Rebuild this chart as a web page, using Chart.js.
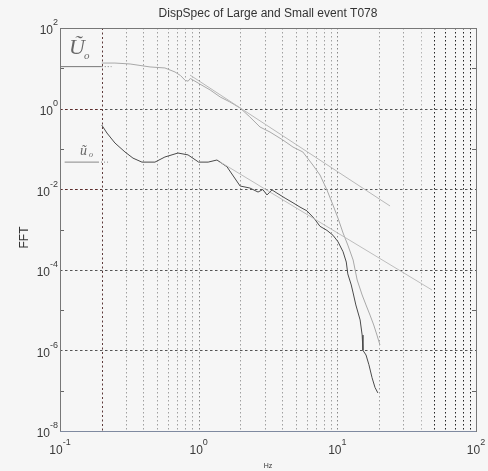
<!DOCTYPE html>
<html><head><meta charset="utf-8">
<script src="https://cdn.jsdelivr.net/npm/chart.js@4"></script>
<style>html,body{margin:0;padding:0;background:#f6f6f6;}canvas{display:block}</style>
</head><body>
<canvas id="c" width="488" height="471"></canvas>
<script>
const titleText = "DispSpec of Large and Small event T078";
const xLabelText = "Hz";
const yLabelText = "FFT";
const xTickExps = [-1, 0, 1, 2];
const yTickExps = [2, 0, -2, -4, -6, -8];
const yMinorExps = [1, -1, -3, -5, -7];

// Small event spectrum (dark curve)
const smallFreq = [0.2,0.218,0.249,0.294,0.336,0.39,0.484,0.571,0.709,0.838,1.0,1.17,1.355,1.6,1.99,2.34,2.68,2.9,3.11,3.38,3.67,4.2,4.79,5.38,6.04,6.79,7.5,8.42,9.3,10.1,11.0,11.6,11.9,12.6,13.0,13.6,14.6,15.1,15.3,16.1,16.9,17.8,18.7,19.6];
const smallAmp = [0.39,0.248,0.14,0.084,0.059,0.047,0.047,0.063,0.079,0.071,0.047,0.047,0.053,0.036,0.012,0.0107,0.0085,0.0098,0.0072,0.0096,0.0080,0.0060,0.0046,0.0036,0.0029,0.0019,0.0012,0.00095,0.00072,0.00050,0.00028,0.000156,7.9e-5,4.2e-5,2.66e-5,1.34e-5,5.7e-6,2.4e-6,1.0e-6,7.7e-7,4.4e-7,2.1e-7,1.2e-7,8.8e-8];

// Large event spectrum (light curve)
const largeFreq = [0.2,0.249,0.32,0.446,0.571,0.675,0.74,0.8,0.84,0.87,1.02,1.21,1.43,1.68,1.99,2.34,2.77,3.27,4.05,4.79,5.64,6.66,7.5,8.42,9.3,10.1,11.0,11.9,13.0,13.9,15.1,16.1,17.2,18.3,19.3,20.3];
const largeAmp = [13.5,13.5,12.8,10.8,10.2,8.1,6.6,5.0,4.8,5.6,4.07,2.9,1.94,1.46,1.035,0.62,0.349,0.262,0.166,0.111,0.0838,0.0398,0.0225,0.00955,0.00405,0.00193,0.000818,0.000412,0.000175,5.58e-5,2.37e-5,1.34e-5,7.55e-6,4.27e-6,2.41e-6,1.36e-6];

// High-frequency asymptotes
const largeAsymFreq = [0.866, 24.0];
const largeAsymAmp = [6.8, 0.00383];
const smallAsymFreq = [1.43, 48.2];
const smallAsymAmp = [0.0473, 3.15e-5];

// Low-frequency levels
const largeLevelFreq = [0.1, 0.2];
const largeLevelAmp = [11, 11];
const largeLevelDotFreq = [0.2, 0.235];
const smallLevelFreq = [0.108, 0.188];
const smallLevelAmp = [0.047, 0.047];
const smallLevelDotFreq = [0.188, 0.225];

function pts(xs, ys) { return xs.map((x, i) => ({x: x, y: ys[i]})); }
function line(data, color, width, dash) {
  return {data: data, borderColor: color, borderWidth: width, borderDash: dash || [], showLine: true, pointRadius: 0, fill: false, tension: 0};
}

const FONT = '"Liberation Sans", Arial, sans-serif';

function drawPow(ctx, x, y, exp, align) {
  ctx.save();
  ctx.fillStyle = '#3a3a3a';
  ctx.textBaseline = 'middle';
  ctx.font = '12px ' + FONT;
  const base = '10';
  const e = String(exp);
  const wb = ctx.measureText(base).width;
  ctx.font = '9px ' + FONT;
  const we = ctx.measureText(e).width;
  const x0 = align === 'right' ? x - wb - we : x - (wb + we) / 2;
  ctx.font = '12px ' + FONT;
  ctx.textAlign = 'left';
  ctx.fillText(base, x0, y);
  ctx.font = '9px ' + FONT;
  ctx.fillText(e, x0 + wb, y - 8);
  ctx.restore();
}

const decor = {
  id: 'decor',
  beforeDatasetsDraw(chart) {
    const ctx = chart.ctx, xs = chart.scales.x, ys = chart.scales.y, a = chart.chartArea;
    ctx.save();
    for (let d = -1; d <= 1; d++) {
      for (let m = 1; m <= 9; m++) {
        const v = m * Math.pow(10, d);
        if (v <= 0.1 + 1e-9) continue;
        const px = Math.round(xs.getPixelForValue(v)) + 0.5;
        let col = '#a0a0a0';
        let dash = [1.5, 2.5];
        if (d === -1 && m === 2) { col = '#5e3a3a'; dash = [2, 2.5]; }
        else if (d === 1 && m >= 5) col = '#222';
        else if (d === 1 && m === 4) col = '#b5b5b5';
        else if (m === 1) col = '#888';
        ctx.strokeStyle = col;
        ctx.lineWidth = 1;
        ctx.setLineDash(dash);
        ctx.beginPath(); ctx.moveTo(px, a.top); ctx.lineTo(px, a.bottom); ctx.stroke();
      }
    }
    yTickExps.forEach(e => {
      if (e === 2 || e === -8) return;
      const py = Math.round(ys.getPixelForValue(Math.pow(10, e))) + 0.5;
      ctx.strokeStyle = '#555';
      ctx.setLineDash([2.5, 2.5]);
      ctx.beginPath(); ctx.moveTo(a.left, py); ctx.lineTo(a.right, py); ctx.stroke();
      if (e === -2 || e === 0) {
        ctx.strokeStyle = '#5e2a2a';
        ctx.beginPath(); ctx.moveTo(a.left, py); ctx.lineTo(xs.getPixelForValue(0.2), py); ctx.stroke();
      }
    });
    ctx.setLineDash([]);
    ctx.strokeStyle = '#666';
    yMinorExps.forEach(e => {
      const py = Math.round(ys.getPixelForValue(Math.pow(10, e))) + 0.5;
      ctx.beginPath(); ctx.moveTo(a.left, py); ctx.lineTo(a.left + 4, py); ctx.stroke();
      ctx.beginPath(); ctx.moveTo(a.right, py); ctx.lineTo(a.right - 4, py); ctx.stroke();
    });
    ctx.restore();
  },
  afterDatasetsDraw(chart) {
    const ctx = chart.ctx, xs = chart.scales.x, ys = chart.scales.y, a = chart.chartArea;
    ctx.save();
    ctx.lineWidth = 1;
    ctx.strokeStyle = '#777';
    ctx.strokeRect(Math.round(a.left) + 0.5, Math.round(a.top) + 0.5, Math.round(a.right - a.left), Math.round(a.bottom - a.top));
    ctx.strokeStyle = '#7f8aa0';
    ctx.beginPath(); ctx.moveTo(a.left, Math.round(a.bottom) + 0.5); ctx.lineTo(a.right, Math.round(a.bottom) + 0.5); ctx.stroke();
    xTickExps.forEach(e => {
      drawPow(ctx, xs.getPixelForValue(Math.pow(10, e)), a.bottom + 20, e, 'center');
    });
    yTickExps.forEach(e => {
      drawPow(ctx, a.left - 2, ys.getPixelForValue(Math.pow(10, e)) + 3, e, 'right');
    });
    ctx.fillStyle = '#333';
    ctx.textAlign = 'center';
    ctx.textBaseline = 'middle';
    ctx.font = '12px ' + FONT;
    ctx.fillText(titleText, (a.left + a.right) / 2, 14);
    ctx.font = '7px ' + FONT;
    ctx.fillText(xLabelText, (a.left + a.right) / 2, 466);
    ctx.save();
    ctx.translate(25, (a.top + a.bottom) / 2 + 8);
    ctx.rotate(-Math.PI / 2);
    ctx.font = '12px ' + FONT;
    ctx.fillText(yLabelText, 0, 0);
    ctx.restore();
    ctx.fillStyle = '#666';
    ctx.textAlign = 'left';
    ctx.font = 'italic 22px "Liberation Serif", "DejaVu Serif", serif';
    ctx.fillText('\u0168', 69, 48);
    ctx.font = 'italic 11px "Liberation Serif", "DejaVu Serif", serif';
    ctx.fillText('o', 84, 56);
    ctx.font = 'italic 14px "Liberation Serif", "DejaVu Serif", serif';
    ctx.fillText('\u0169', 80, 151);
    ctx.font = 'italic 8px "Liberation Serif", "DejaVu Serif", serif';
    ctx.fillText('o', 89, 155);
    ctx.restore();
  }
};

new Chart(document.getElementById('c'), {
  type: 'scatter',
  data: {
    datasets: [
      line(pts(largeAsymFreq, largeAsymAmp), '#b8b8b8', 1),
      line(pts(smallAsymFreq, smallAsymAmp), '#bdbdbd', 1),
      line(pts(largeFreq, largeAmp), '#a8a8a8', 1),
      line(pts(largeLevelFreq, largeLevelAmp), '#777', 1),
      line(pts(largeLevelDotFreq, largeLevelAmp), '#777', 1, [1, 2]),
      line(pts(smallLevelFreq, smallLevelAmp), '#888', 1),
      line(pts(smallLevelDotFreq, smallLevelAmp), '#888', 1, [1, 2]),
      line(pts(smallFreq, smallAmp), '#4a4a4a', 1)
    ]
  },
  options: {
    responsive: false,
    animation: false,
    devicePixelRatio: 1,
    layout: {padding: {left: 60, right: 12, top: 28, bottom: 40}},
    plugins: {legend: {display: false}, tooltip: {enabled: false}, title: {display: false}},
    scales: {
      x: {type: 'logarithmic', min: 0.1, max: 100, display: false},
      y: {type: 'logarithmic', min: 1e-8, max: 100, display: false}
    }
  },
  plugins: [decor]
});
</script>
</body></html>
